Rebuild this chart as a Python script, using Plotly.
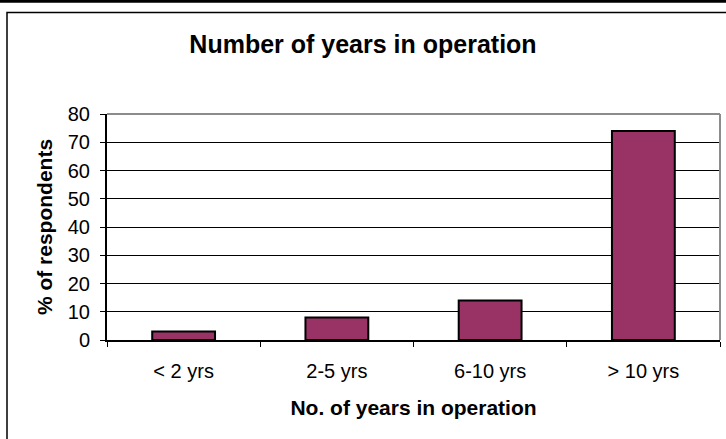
import plotly.graph_objects as go

categories = ["< 2 yrs", "2-5 yrs", "6-10 yrs", "> 10 yrs"]
values = [3, 8, 14, 74]
y_ticks = [0, 10, 20, 30, 40, 50, 60, 70, 80]

W, H = 726, 439
# plot area in screen px: x 107..720, y 114..340
L, T = 107, 114
R = W - 720
B = H - 340
PW, PH = W - L - R, H - T - B

def px(sx):
    return (sx - L) / PW

def py(sy):
    return (H - B - sy) / PH

FONT = "Liberation Sans, Arial, sans-serif"

fig = go.Figure(go.Bar(
    x=categories, y=values, width=0.41,
    marker=dict(color="#993366", line=dict(color="black", width=2)),
))

fig.update_layout(
    width=W, height=H,
    margin=dict(l=L, r=R, t=T, b=B, autoexpand=False),
    paper_bgcolor="white", plot_bgcolor="white",
    font=dict(family=FONT, color="black", size=20),
    showlegend=False,
    title=dict(text="<b>Number of years in operation</b>", x=363 / W, xref="container",
               y=1 - 44 / H, yref="container", yanchor="middle", xanchor="center",
               font=dict(size=25, family=FONT, color="black")),
    xaxis=dict(
        type="category", tickson="boundaries", ticks="outside", ticklen=5,
        tickcolor="black", tickwidth=1, showline=True, linecolor="black", linewidth=2,
        showgrid=False, ticklabelstandoff=12, automargin=False,
        tickfont=dict(size=20),
        title=dict(text="<b>No. of years in operation</b>", font=dict(size=21), standoff=19),
    ),
    yaxis=dict(
        range=[0, 80], tickvals=y_ticks, ticks="outside", ticklen=5,
        tickcolor="black", tickwidth=1, showline=True, linecolor="black", linewidth=2,
        showgrid=True, gridcolor="black", gridwidth=1, zeroline=False,
        ticklabelstandoff=6, tickfont=dict(size=20), automargin=False,
        title=dict(text="<b>% of respondents</b>", font=dict(size=21), standoff=9),
    ),
    shapes=[
        # plot area top & right grey border
        dict(type="line", xref="paper", yref="paper", x0=0, x1=1, y0=1, y1=1,
             line=dict(color="#8c8c8c", width=2), layer="above"),
        dict(type="line", xref="paper", yref="paper", x0=1, x1=1, y0=0, y1=1,
             line=dict(color="#8c8c8c", width=2), layer="above"),
        # outer chart frame
        dict(type="rect", xref="paper", yref="paper", x0=px(7), x1=px(760),
             y0=py(470), y1=py(12.5), line=dict(color="black", width=1.5),
             fillcolor="rgba(0,0,0,0)", layer="above"),
        # thick line at very top
        dict(type="line", xref="paper", yref="paper", x0=px(-10), x1=px(740),
             y0=py(1.2), y1=py(1.2), line=dict(color="black", width=3), layer="above"),
    ],
)

fig.write_html(
    "out.html",
    config={"displayModeBar": False},
    post_script="document.body.style.margin='0';document.body.style.overflow='hidden';",
)
